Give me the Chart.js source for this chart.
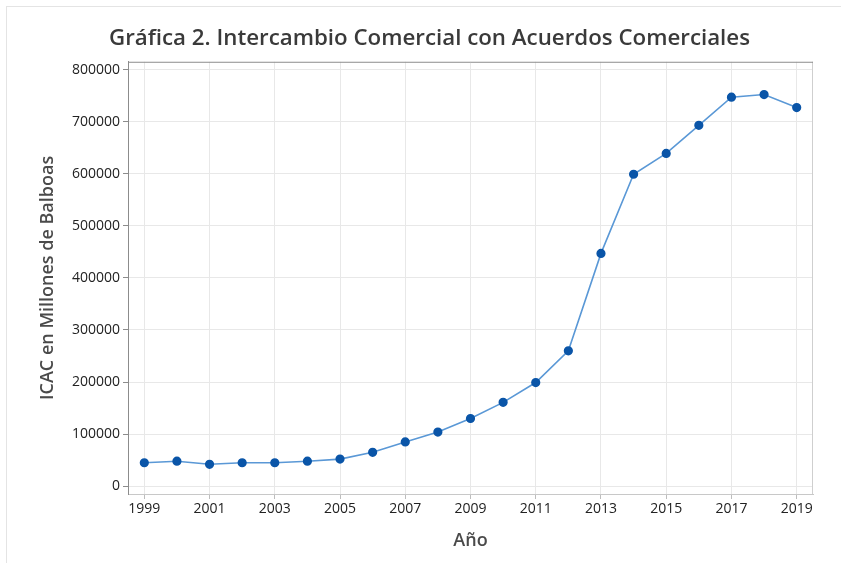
<!DOCTYPE html>
<html>
<head>
<meta charset="utf-8">
<script src="https://cdn.jsdelivr.net/npm/chart.js@4.4.1/dist/chart.umd.min.js"></script>
<style>
  html, body { margin: 0; padding: 0; background: #fff; }
  #wrap { position: relative; width: 841px; height: 563px; }
  #frame { position: absolute; left: 6px; top: 6px; right: 0; bottom: 0;
           border-left: 1px solid #e4e4e4; border-top: 1px solid #e4e4e4; }
  canvas { position: absolute; left: 0; top: 0; }
</style>
</head>
<body>
<div id="wrap">
  <div id="frame"></div>
  <canvas id="icacChart" width="841" height="563"></canvas>
</div>
<script>
// Data
const years = [1999, 2000, 2001, 2002, 2003, 2004, 2005, 2006, 2007, 2008, 2009,
               2010, 2011, 2012, 2013, 2014, 2015, 2016, 2017, 2018, 2019];
const icacValues = [45000, 48000, 42000, 45000, 45000, 48000, 52000, 65000, 85000, 104000, 130000,
                    161000, 199000, 260000, 447000, 599000, 639000, 693000, 747000, 752000, 727000];
const xTickYears = [1999, 2001, 2003, 2005, 2007, 2009, 2011, 2013, 2015, 2017, 2019];
const yTickValues = [0, 100000, 200000, 300000, 400000, 500000, 600000, 700000, 800000];

// Frame lines on top and right of the plot area
const boxPlugin = {
    id: 'boxPlugin',
    afterDraw: (chart) => {
        const {ctx, chartArea: {top, bottom, left, right}} = chart;
        ctx.save();
        ctx.lineWidth = 1;
        ctx.strokeStyle = '#cfcfcf';
        ctx.beginPath();
        ctx.moveTo(right - 0.5, top);
        ctx.lineTo(right - 0.5, bottom);
        ctx.stroke();
        ctx.strokeStyle = '#8c8c8c';
        ctx.beginPath();
        ctx.moveTo(left, top + 0.5);
        ctx.lineTo(right, top + 0.5);
        ctx.stroke();
        ctx.restore();
    }
};

const ctx = document.getElementById('icacChart').getContext('2d');

new Chart(ctx, {
    type: 'line',
    data: {
        datasets: [{
            data: years.map((y, i) => ({x: y, y: icacValues[i]})),
            borderColor: '#5a98d6',
            borderWidth: 1.6,
            pointBackgroundColor: '#0a55a8',
            pointBorderColor: '#0a55a8',
            pointRadius: 3.8,
            tension: 0
        }]
    },
    options: {
        responsive: false,
        animation: false,
        layout: {
            padding: {left: 46, right: 28, top: 0, bottom: 0}
        },
        plugins: {
            legend: {display: false},
            tooltip: {enabled: false},
            title: {
                display: true,
                text: 'Gráfica 2. Intercambio Comercial con Acuerdos Comerciales',
                color: '#3a3a3a',
                font: {family: 'Open Sans', size: 22.3, weight: '600'},
                padding: {top: 25, bottom: 10}
            }
        },
        scales: {
            x: {
                type: 'linear',
                min: 1998.5,
                max: 2019.5,
                afterBuildTicks: (scale) => {
                    scale.ticks = xTickYears.map(v => ({value: v}));
                },
                afterFit: (scale) => { scale.height = 69; },
                ticks: {
                    color: '#222',
                    font: {family: 'Open Sans', size: 14},
                    padding: 2,
                    maxRotation: 0,
                    callback: (v) => String(v)
                },
                grid: {
                    color: '#e8e8e8',
                    tickColor: '#bdbdbd',
                    tickLength: 5
                },
                border: {color: '#c8c8c8'},
                title: {
                    display: true,
                    text: 'Año',
                    color: '#4a4a4a',
                    font: {family: 'Open Sans', size: 18, weight: '600'},
                    padding: {top: 0, bottom: 11}
                }
            },
            y: {
                min: -15000,
                max: 815000,
                afterBuildTicks: (scale) => {
                    scale.ticks = yTickValues.map(v => ({value: v}));
                },
                afterFit: (scale) => { scale.width = 82; },
                ticks: {
                    color: '#222',
                    font: {family: 'Open Sans', size: 14},
                    padding: 3,
                    callback: (v) => String(v)
                },
                grid: {
                    color: '#e8e8e8',
                    tickColor: '#8c8c8c',
                    tickLength: 5
                },
                border: {color: '#8c8c8c'},
                title: {
                    display: true,
                    text: 'ICAC en Millones de Balboas',
                    color: '#4a4a4a',
                    font: {family: 'Open Sans', size: 18, weight: '600'},
                    padding: {top: -9, bottom: 0}
                }
            }
        }
    },
    plugins: [boxPlugin]
});
</script>
</body>
</html>
